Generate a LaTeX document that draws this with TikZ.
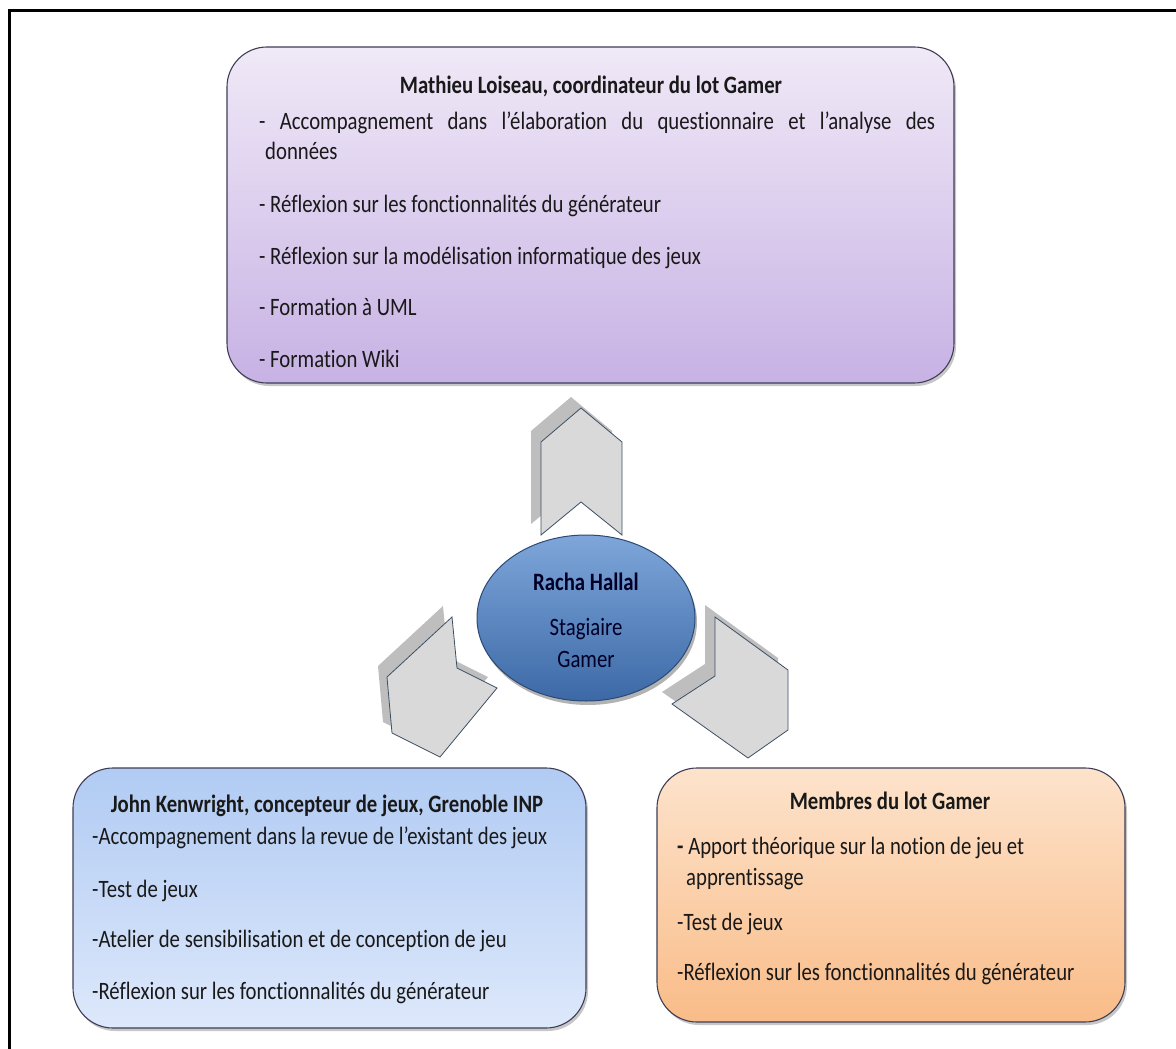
\documentclass[tikz,border=0pt]{standalone}
\usepackage{fontspec}
\setmainfont{Carlito}[FakeStretch=0.83,Ligatures=NoCommon]
\usetikzlibrary{shapes.geometric}
\definecolor{violethaut}{HTML}{F0E9F7}
\definecolor{violetbas}{HTML}{C7B2E4}
\definecolor{bleuhaut}{HTML}{B1CBF3}
\definecolor{bleubas}{HTML}{DDE8FB}
\definecolor{orangehaut}{HTML}{FDE3CC}
\definecolor{orangebas}{HTML}{F9BC88}
\definecolor{centrehaut}{HTML}{7EA6DA}
\definecolor{centrebas}{HTML}{3C69A6}
\definecolor{bordure}{HTML}{3E3E58}
\definecolor{contour}{HTML}{3D4F66}
\definecolor{gris}{HTML}{D9D9D9}
\definecolor{grisombre}{HTML}{BEBEBE}
\begin{document}
\begin{tikzpicture}[x=1pt,y=-1pt,
  titre/.style={font=\fontsize{25}{30}\selectfont\bfseries,anchor=base,inner sep=0pt,text=black!90},
  ligne/.style={font=\fontsize{25}{30}\selectfont,anchor=base west,inner sep=0pt,text=black!90},
  cadre/.style={draw=bordure,line width=1.1pt,rounded corners=40pt},
  ombrecadre/.style={fill=black!22,rounded corners=40pt},
  fleche/.style={fill=gris,draw=contour,line width=0.8pt,line join=miter},
  ombre/.style={fill=grisombre}]
 \useasboundingbox (0,0) rectangle (1176,1049);
 \clip (0,0) rectangle (1176,1049);
 \draw[line width=3pt] (9,11) rectangle (1200,1080);

 \fill[ombrecadre] (229,50) rectangle (956,386);
 \shade[cadre,top color=violethaut,bottom color=violetbas] (227,47) rectangle (954,383);
 \fill[ombrecadre] (75,771) rectangle (588,1031);
 \shade[cadre,top color=bleuhaut,bottom color=bleubas] (73,768) rectangle (586,1028);
 \fill[ombrecadre] (659,771) rectangle (1127,1025);
 \shade[cadre,top color=orangehaut,bottom color=orangebas] (657,768) rectangle (1125,1022);

 \fill[ombre] ([shift={(-10,-11)}]581,408) -- ++(41,34) -- ++(0,93) -- ++(-41,-33) -- ++(-40,33) -- ++(0,-93) -- cycle;
 \draw[fleche] (581,408) -- (622,442) -- (622,535) -- (581,502) -- (541,535) -- (541,442) -- cycle;
 \fill[ombre] ([shift={(-9,-11)}]392,733) -- ++(-5,-56) -- ++(65,-60) -- ++(5,51) -- ++(40,20) -- ++(-57,69) -- cycle;
 \draw[fleche] (392,733) -- (387,677) -- (452,617) -- (457,668) -- (497,688) -- (440,757) -- cycle;
 \fill[ombre] ([shift={(-10,-12)}]788,730) -- ++(0,-60) -- ++(-73,-53) -- ++(0,59) -- ++(-43,28) -- ++(76,53) -- cycle;
 \draw[fleche] (788,730) -- (788,670) -- (715,617) -- (715,676) -- (672,704) -- (748,758) -- cycle;

 \fill[black!30] (588,622) ellipse [x radius=109,y radius=83];
 \node[ellipse,draw=centrebas!70!black,line width=1pt,top color=centrehaut,bottom color=centrebas,
   minimum width=218pt,minimum height=166pt,inner sep=0pt] (racha) at (586,618) {};
 \node[titre,text=black!85!blue] (nom) at (586,590) {Racha Hallal};
 \node[ligne,anchor=base,text=black!85!blue] (stage) at (586,635) {Stagiaire};
 \node[ligne,anchor=base,text=black!85!blue] (gamer) at (586,667) {Gamer};

 \node[titre] (mathieu) at (591,94) {Mathieu Loiseau, coordinateur du lot Gamer};
 \node[ligne] (m1) at (259,129) {\makebox[676pt][s]{- Accompagnement dans l’élaboration du questionnaire et l’analyse des}};
 \node[ligne] (m1b) at (265,159) {données};
 \node[ligne] (m2) at (259,212) {- Réflexion sur les fonctionnalités du générateur};
 \node[ligne] (m3) at (259,264) {- Réflexion sur la modélisation informatique des jeux};
 \node[ligne] (m4) at (259,315) {- Formation à UML};
 \node[ligne] (m5) at (259,367) {- Formation Wiki};

 \node[titre] (john) at (327,812) {John Kenwright, concepteur de jeux, Grenoble INP};
 \node[ligne] (j1) at (92,844) {-Accompagnement dans la revue de l’existant des jeux};
 \node[ligne] (j2) at (92,897) {-Test de jeux};
 \node[ligne] (j3) at (92,947) {-Atelier de sensibilisation et de conception de jeu};
 \node[ligne] (j4) at (92,999) {-Réflexion sur les fonctionnalités du générateur};

 \node[titre] (membres) at (890,809) {Membres du lot Gamer};
 \node[ligne] (g1) at (677,854) {\textbf{-} Apport théorique sur la notion de jeu et};
 \node[ligne] (g1b) at (686,885) {apprentissage};
 \node[ligne] (g2) at (677,930) {-Test de jeux};
 \node[ligne] (g3) at (677,980) {-Réflexion sur les fonctionnalités du générateur};
\end{tikzpicture}
\end{document}
